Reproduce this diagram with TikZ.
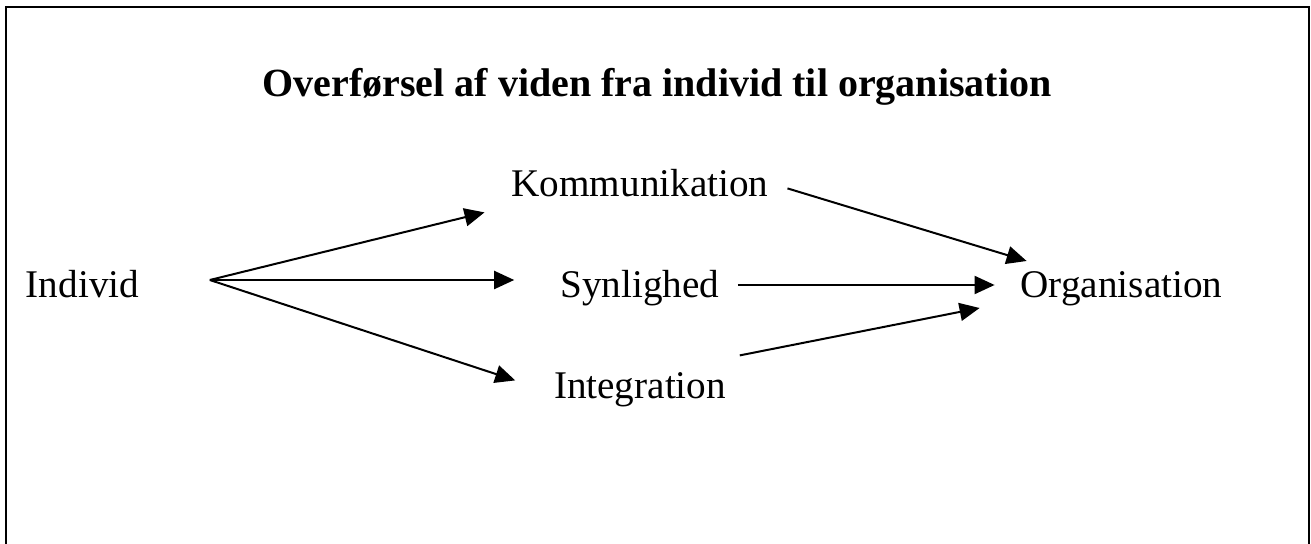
\documentclass[tikz,border=0pt]{standalone}
\usepackage{fontspec}
\setmainfont{Liberation Serif}
\usepackage{tikz}
\usetikzlibrary{arrows.meta}
\tikzstyle{word} = [inner sep=0pt, outer sep=0pt, font=\fontsize{19.6}{23}\selectfont, text height=13.6pt, text depth=4.2pt]
\tikzstyle{heading} = [inner sep=0pt, outer sep=0pt, font=\fontsize{20}{24}\selectfont\bfseries, anchor=base]
\tikzstyle{line} = [draw, line width=1pt, -{Triangle[length=10pt,width=9pt]}]
\tikzstyle{frame} = [draw, line width=1.3pt]

\begin{document}
\begin{tikzpicture}[x=0.5pt, y=-0.5pt, node distance=50.5pt]
    \useasboundingbox (0,0) rectangle (1311,544);
    \path [frame] (6,560) |- (1309,7) -- (1309,560);
    % Place nodes
    \node [heading] (title) at (657,97) {Overførsel af viden fra individ til organisation};
    \node [word] (ind) at (82.5,288) {Individ};
    \node [word] (syn) at (640,288) {Synlighed};
    \node [word, above of=syn] (komm) {Kommunikation};
    \node [word, below of=syn] (integ) {Integration};
    \node [word] (org) at (1121.5,288) {Organisation};
    \coordinate (fork) at ([shift={(70.7,-8)}]ind.east);
    % Draw edges
    \path [line] (fork) -- ([shift={(-27,25.4)}]komm.west);
    \path [line] (fork) -- ([shift={(-46.3,-8)}]syn.west);
    \path [line] (fork) -- ([shift={(-38.8,-8.6)}]integ.west);
    \path [line] ([shift={(19,1.4)}]komm.east) -- ([shift={(6,-27)}]org.west);
    \path [line] ([shift={(18.3,-3)}]syn.east) -- ([shift={(-26,-3)}]org.west);
    \path [line] ([shift={(13.8,-33.6)}]integ.east) -- ([shift={(-41,20)}]org.west);
\end{tikzpicture}
\end{document}
